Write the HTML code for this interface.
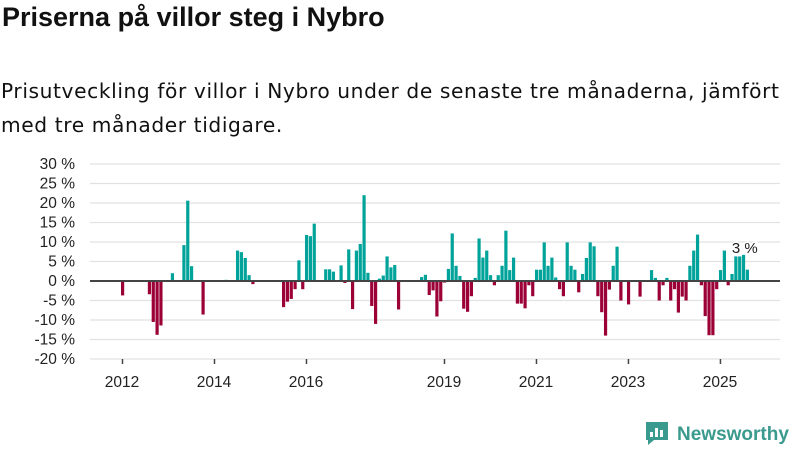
<!DOCTYPE html>
<html><head><meta charset="utf-8">
<style>
body{margin:0;background:#fff;font-family:"Liberation Sans","DejaVu Sans",sans-serif;}
#wrap{position:relative;width:800px;height:450px;overflow:hidden;}
h1{position:absolute;left:2px;top:2px;margin:0;font-size:27px;font-weight:bold;color:#111;}
p.sub{position:absolute;left:1px;top:74px;margin:0;font-family:"DejaVu Sans",sans-serif;font-size:20.2px;letter-spacing:0.6px;line-height:34px;color:#111;width:799px;white-space:nowrap;}
</style></head><body>
<div id="wrap">
<h1>Priserna på villor steg i Nybro</h1>
<p class="sub">Prisutveckling för villor i Nybro under de senaste tre månaderna, jämfört<br>med tre månader tidigare.</p>
<svg id="chart" width="800" height="450" style="position:absolute;left:0;top:0"></svg>
</div>
<script>
// months since Jan 2011
const monthIdx = [12,19,20,21,22,25,28,29,30,33,39,42,43,44,45,46,
54,55,56,57,58,59,60,61,62,65,66,67,69,70,71,72,73,74,75,76,77,78,79,80,81,82,83,84,
90,91,92,93,94,95,96,97,98,99,100,101,102,103,104,105,106,107,108,109,110,111,112,113,114,115,116,117,118,119,
120,121,122,123,124,125,126,127,128,129,130,131,132,133,134,135,136,137,138,139,140,141,142,144,147,
150,151,152,153,154,155,156,157,158,159,160,161,162,163,164,165,166,167,168,169,170,171,172,173,174,175];
const values = [-3.7,-3.4,-10.5,-13.8,-11.4,2.0,9.2,20.6,3.8,-8.6,0.3,7.8,7.4,5.9,1.5,-0.8,
-6.7,-5.3,-4.6,-2.1,5.3,-2.1,11.8,11.5,14.7,3.0,3.0,2.4,4.0,-0.5,8.1,-7.2,7.8,9.5,22,2.1,-6.4,-11.0,0.6,1.4,6.3,3.5,4.1,-7.3,
1.0,1.6,-3.6,-2.4,-9.1,-5.2,-0.4,3.1,12.2,3.9,1.3,-7.1,-7.9,-3.9,0.8,10.9,6.0,7.8,1.5,-1.1,1.5,3.9,12.9,2.8,6.0,-5.8,-5.8,-7.0,-1.1,-3.9,
2.9,2.9,9.9,3.9,6.0,0.9,-2.1,-3.9,9.9,3.9,2.9,-2.9,1.8,5.9,9.9,8.9,-3.9,-8.0,-14,-2.2,3.9,8.8,-5.0,-6.0,-4.0,
2.8,0.8,-5.0,-1.1,0.8,-5.0,-2.1,-8.1,-4.0,-5.0,3.9,7.8,11.9,-1.1,-9.0,-13.9,-13.9,-2.1,2.8,7.8,-1.1,1.8,6.3,6.3,6.7,2.9];
const yTicks = [30,25,20,15,10,5,0,-5,-10,-15,-20];
const xTickYears = [2012,2014,2016,2019,2021,2023,2025];
const lastLabel = "3 %";

const NS="http://www.w3.org/2000/svg";
const svg=document.getElementById('chart');
const y=v=>281 - v*3.9;
const x=m=>121 + (m-12)*3.833;
function mk(t,a){const e=document.createElementNS(NS,t);for(const k in a)e.setAttribute(k,a[k]);svg.appendChild(e);return e;}
yTicks.forEach(t=>{
  const g=mk('line',{x1:90,x2:780,y1:y(t),y2:y(t),stroke:'#e2e2e2','stroke-width':1.3});
  
  
  const l=mk('text',{x:75,y:y(t)+5,'text-anchor':'end','font-size':15.5,fill:'#222'});
  l.textContent=t+' %';
  
  
});
xTickYears.forEach(yr=>{
  const m=(yr-2011)*12;
  const tk=mk('line',{x1:x(m)+1.5,x2:x(m)+1.5,y1:359,y2:364,stroke:'#444','stroke-width':1.5});
  
  
  const l=mk('text',{x:x(m)+1,y:387,'text-anchor':'middle','font-size':15.5,fill:'#222'});
  l.textContent=yr;
  
  
});
monthIdx.forEach((m,i)=>{
  const v=values[i];
  const r=mk('rect',{x:x(m),width:3.2,y:v>=0?y(v):y(0),height:Math.abs(v)*3.9,fill:v>=0?'#00a39a':'#9b0036'});
  
  
});
const z=mk('line',{x1:90,x2:780,y1:y(0),y2:y(0),stroke:'#444','stroke-width':2});


const lm=monthIdx[monthIdx.length-1];
const lt=mk('text',{x:x(lm)-1,y:253,'text-anchor':'middle','font-size':15,fill:'#222',stroke:'#fff','stroke-width':3,'paint-order':'stroke'});
lt.textContent=lastLabel;


// logo
const lg=mk('g',{});


const ic=document.createElementNS(NS,'path');
ic.setAttribute('d','M646 422 h22 v18 h-14 l-6 5 v-5 h-2 z');
ic.setAttribute('fill','#3a9a8e');
lg.appendChild(ic);
[[650,432,3,5],[655,428,3,9],[660,430,3,7]].forEach(b=>{const r=document.createElementNS(NS,'rect');r.setAttribute('x',b[0]);r.setAttribute('y',b[1]);r.setAttribute('width',b[2]);r.setAttribute('height',b[3]);r.setAttribute('fill','#fff');lg.appendChild(r);});
const lt2=document.createElementNS(NS,'text');
lt2.setAttribute('x',677);lt2.setAttribute('y',440);lt2.setAttribute('font-size',19);lt2.setAttribute('font-weight','bold');lt2.setAttribute('fill','#3a9a8e');
lt2.textContent='Newsworthy';
lg.appendChild(lt2);
</script>
</body></html>
